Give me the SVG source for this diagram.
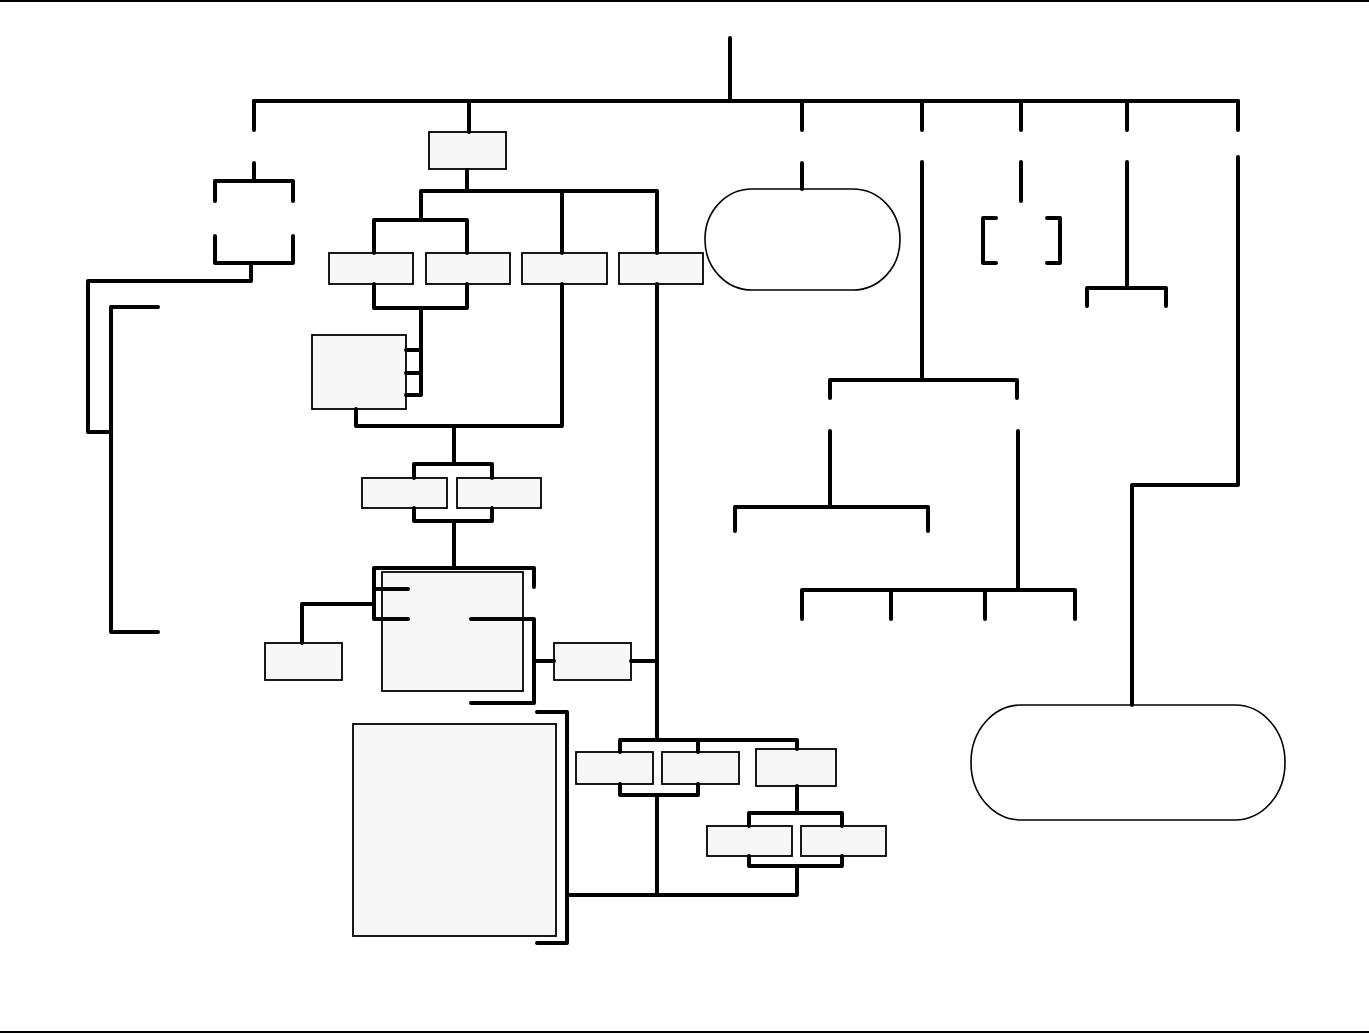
<svg xmlns="http://www.w3.org/2000/svg" width="1369" height="1034" viewBox="0 0 1369 1034">
<style>
.box{fill:#f7f7f7;stroke:#000;stroke-width:1.8}
.oval{fill:#fff;stroke:#000;stroke-width:1.6}
.c{fill:none;stroke:#000;stroke-width:4;stroke-linejoin:round;stroke-linecap:round}
.frame{stroke:#000;stroke-width:2}
</style>
<rect width="1369" height="1034" fill="#fff"/>
<line class="frame" x1="0" y1="1" x2="1369" y2="1"/>
<line class="frame" x1="0" y1="1032" x2="1369" y2="1032"/>
<g id="nodes">
<g id="n1"><rect class="box" x="429" y="132" width="77" height="37"/></g>
<g id="n2"><rect class="box" x="329" y="253" width="84" height="31"/></g>
<g id="n3"><rect class="box" x="426" y="253" width="84" height="31"/></g>
<g id="n4"><rect class="box" x="522" y="253" width="85" height="31"/></g>
<g id="n5"><rect class="box" x="619" y="253" width="84" height="31"/></g>
<g id="n6"><rect class="box" x="312" y="335" width="94" height="74"/></g>
<g id="n7"><rect class="box" x="362" y="478" width="85" height="30"/></g>
<g id="n8"><rect class="box" x="457" y="478" width="84" height="30"/></g>
<g id="n9"><rect class="box" x="382" y="572" width="141" height="119"/></g>
<g id="n10"><rect class="box" x="265" y="643" width="77" height="37"/></g>
<g id="n11"><rect class="box" x="554" y="643" width="77" height="37"/></g>
<g id="n12"><rect class="box" x="353" y="724" width="203" height="212"/></g>
<g id="n13"><rect class="box" x="576" y="752" width="77" height="32"/></g>
<g id="n14"><rect class="box" x="662" y="752" width="77" height="32"/></g>
<g id="n15"><rect class="box" x="756" y="749" width="80" height="37"/></g>
<g id="n16"><rect class="box" x="707" y="826" width="85" height="30"/></g>
<g id="n17"><rect class="box" x="801" y="826" width="85" height="30"/></g>
<g id="oval1"><rect class="oval" x="705" y="189" width="195" height="101" rx="47" ry="50"/></g>
<g id="oval2"><rect class="oval" x="971" y="705" width="314" height="115" rx="50" ry="57"/></g>
</g>
<g id="connectors">
<path class="c" d="M730 38V101M254 101H1238"/>
<path class="c" d="M254 101V130M469 101V132M802 101V130M922 101V130M1021 101V130M1127 101V130M1238 101V130"/>
<path class="c" d="M254 163V181M215 201V181H293V201M215 236V263H293V236M251 263V281H88V432H111M158 307H111V632H158"/>
<path class="c" d="M467 170V191M421 220V191H657V253M374 253V220H467V253M562 191V253M374 284V308H467V284M421 308V395H406M406 350H421M406 373H421M356 409V426H562V284"/>
<path class="c" d="M454 426V464M414 478V464H492V478M414 508V521H492V508M454 521V568"/>
<path class="c" d="M534 587V568H374V619H408M374 589H408M302 643V604H374M471 619H534V703H471M534 661H554M631 661H657"/>
<path class="c" d="M657 284V740M657 795V895M537 712H567V943H537M567 895H797V866M749 856V866H842V856M797 786V813M749 826V813H842V826M620 752V740H797V749M698 740V752M620 784V795H698V784"/>
<path class="c" d="M802 163V189M922 162V380M830 398V380H1017V398M830 431V507M735 531V507H928V531M1018 431V590M802 619V590H1075V619M891 590V619M985 590V619"/>
<path class="c" d="M1021 162V201M996 218H983V263H996M1047 218H1060V263H1047M1127 162V288M1087 306V288H1166V306M1238 157V485H1132V705"/>
</g>
</svg>
